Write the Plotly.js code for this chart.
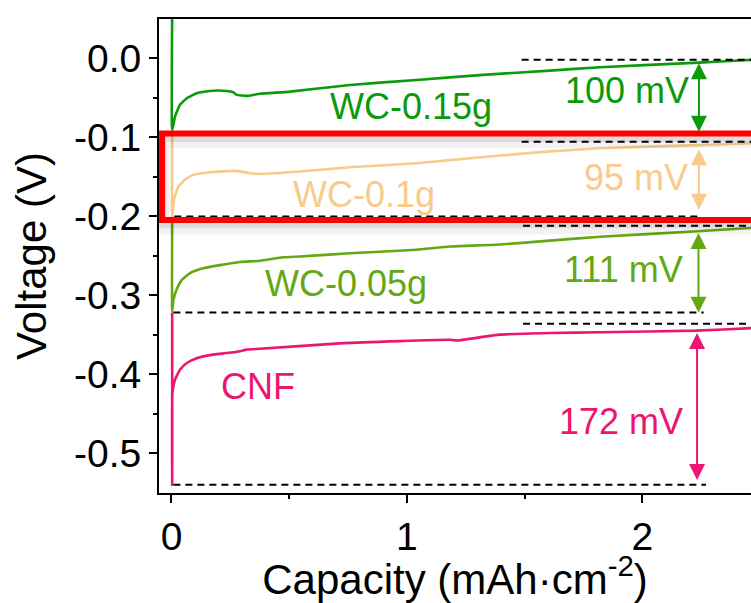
<!DOCTYPE html>
<html>
<head>
<meta charset="utf-8">
<script src="https://cdn.plot.ly/plotly-3.0.1.min.js"></script>
<style>html,body{margin:0;padding:0;background:#fff;}#chart{width:751px;height:603px;}</style>
</head>
<body>
<div id="chart"></div>
<script>
// ---- data ----
const capWC015 = [0.003, 0.003, 0.015, 0.036, 0.065, 0.107, 0.163, 0.234, 0.262, 0.277, 0.319, 0.376, 0.503, 0.758, 1.041, 1.323, 1.607, 1.82, 2.24, 2.465, 2.5];
const voltWC015 = [0.06, -0.091, -0.074, -0.059, -0.0506, -0.0443, -0.0414, -0.0414, -0.043, -0.0464, -0.0477, -0.045, -0.0423, -0.0338, -0.0275, -0.0211, -0.0157, -0.0114, -0.0055, -0.002, -0.0015];

const capWC01 = [0.003, 0.003, 0.011, 0.029, 0.057, 0.093, 0.163, 0.277, 0.333, 0.376, 0.546, 0.758, 1.041, 1.324, 1.607, 1.82, 2.24, 2.461, 2.5];
const voltWC01 = [-0.095, -0.2005, -0.179, -0.1625, -0.154, -0.1477, -0.1443, -0.1427, -0.1456, -0.1465, -0.1435, -0.138, -0.133, -0.125, -0.118, -0.114, -0.110, -0.1076, -0.107];

const capWC005 = [0.003, 0.003, 0.008, 0.022, 0.043, 0.079, 0.135, 0.206, 0.291, 0.376, 0.475, 0.546, 0.758, 0.885, 1.041, 1.183, 1.395, 1.607, 1.82, 2.216, 2.461, 2.5];
const voltWC005 = [-0.2, -0.3206, -0.306, -0.293, -0.281, -0.272, -0.266, -0.262, -0.258, -0.2565, -0.252, -0.251, -0.247, -0.245, -0.2426, -0.2385, -0.2358, -0.231, -0.226, -0.2195, -0.215, -0.2145];

const capCNF = [0.003, 0.003, 0.004, 0.015, 0.036, 0.065, 0.107, 0.163, 0.234, 0.291, 0.319, 0.376, 0.73, 1.183, 1.211, 1.395, 1.607, 1.82, 2.23, 2.461, 2.5];
const voltCNF = [-0.322, -0.540, -0.424, -0.407, -0.3946, -0.386, -0.380, -0.376, -0.3734, -0.371, -0.369, -0.368, -0.3608, -0.3566, -0.3575, -0.350, -0.348, -0.347, -0.345, -0.3418, -0.341];

const seriesNames = ["WC-0.15g", "WC-0.1g", "WC-0.05g", "CNF"];
const seriesColors = ["#0a9a0a", "#f8cb8c", "#64a814", "#ec1670"];

// dashed reference levels (V)
const leftLevels = [-0.2005, -0.322, -0.540];
const leftStart = [0.012, 0.008, 0.008];
const leftEnd = [2.25, 2.26, 2.27];
const rightLevels = [-0.002, -0.1056, -0.212, -0.3363];
const rightStart = [1.487, 1.487, 1.493, 1.493];
const rightEnd = [2.6, 2.6, 2.6, 2.6];

// differences (arrows) and labels
const gapLabels = ["100 mV", "95 mV", "111 mV", "172 mV"];
const gapTop = [-0.0043, -0.1135, -0.2195, -0.346];
const gapBottom = [-0.093, -0.192, -0.3224, -0.534];
const gapX = [2.24, 2.24, 2.238, 2.232];
const gapLabelX = [2.206, 2.202, 2.18, 2.18];
const gapLabelY = [-0.0411, -0.1515, -0.268, -0.46];

const nameLabelX = [1.019, 0.817, 0.743, 0.367];
const nameLabelY = [-0.0605, -0.172, -0.285, -0.416];

// highlight box (data coords)
const boxX = [-0.040, 2.6];
const boxY = [-0.0954, -0.2047];

const xTickVals = [0, 1, 2];
const xTickText = ["0", "1", "2"];
const xMinorVals = [0.5, 1.5];
const yTickVals = [0, -0.1, -0.2, -0.3, -0.4, -0.5];
const yTickText = ["0.0", "-0.1", "-0.2", "-0.3", "-0.4", "-0.5"];
const yMinorVals = [-0.05, -0.15, -0.25, -0.35, -0.45];

// ---- build traces ----
const FONT = "Liberation Sans, Arial, Helvetica, sans-serif";
const caps = [capWC015, capWC01, capWC005, capCNF];
const volts = [voltWC015, voltWC01, voltWC005, voltCNF];
const traces = [];
for (let i = 3; i >= 0; i--) {
  traces.push({x: caps[i], y: volts[i], mode: "lines", name: seriesNames[i],
    line: {color: seriesColors[i], width: 2.6, shape: "spline", smoothing: 0.4}, hoverinfo: "skip"});
}
for (let i = 0; i < leftLevels.length; i++) {
  traces.push({x: [leftStart[i], leftEnd[i]], y: [leftLevels[i], leftLevels[i]], mode: "lines",
    line: {color: "#000", width: 2, dash: "7px,5px"}, hoverinfo: "skip"});
}
for (let i = 0; i < rightLevels.length; i++) {
  traces.push({x: [rightStart[i], rightEnd[i]], y: [rightLevels[i], rightLevels[i]], mode: "lines",
    line: {color: "#000", width: 2, dash: "7px,5px"}, hoverinfo: "skip"});
}

const annotations = [];
for (let i = 0; i < 4; i++) {
  annotations.push({x: nameLabelX[i], y: nameLabelY[i], xref: "x", yref: "y", text: seriesNames[i],
    showarrow: false, xanchor: "center", yanchor: "middle",
    font: {family: FONT, size: 36, color: seriesColors[i]}});
  annotations.push({x: gapLabelX[i], y: gapLabelY[i], xref: "x", yref: "y", text: gapLabels[i],
    showarrow: false, xanchor: "right", yanchor: "middle",
    font: {family: FONT, size: 36, color: seriesColors[i]}});
  annotations.push({x: gapX[i], y: gapBottom[i], ax: gapX[i], ay: gapTop[i], xref: "x", yref: "y",
    axref: "x", ayref: "y", text: "", showarrow: true, arrowside: "end+start",
    arrowhead: 2, startarrowhead: 2, arrowsize: 1.6, startarrowsize: 1.6, arrowwidth: 2,
    arrowcolor: seriesColors[i], standoff: 0, startstandoff: 0});
}

const shapes = [
  {type: "rect", xref: "x", yref: "y", x0: boxX[0], x1: boxX[1], y0: boxY[0] - 0.008, y1: boxY[1] - 0.008,
   line: {color: "rgba(0,0,0,0.05)", width: 16}, layer: "above"},
  {type: "rect", xref: "x", yref: "y", x0: boxX[0], x1: boxX[1], y0: boxY[0] - 0.005, y1: boxY[1] - 0.005,
   line: {color: "rgba(0,0,0,0.09)", width: 9}, layer: "above"},
  {type: "rect", xref: "x", yref: "y", x0: boxX[0], x1: boxX[1], y0: boxY[0], y1: boxY[1],
   line: {color: "#ff0000", width: 6}, layer: "above"}
];

const layout = {
  width: 751, height: 603,
  margin: {l: 159, r: 0, t: 19, b: 110, pad: 0},
  paper_bgcolor: "#ffffff", plot_bgcolor: "#ffffff",
  showlegend: false,
  font: {family: FONT, color: "#000"},
  xaxis: {
    range: [-0.053, 2.461], showgrid: false, zeroline: false,
    showline: true, linecolor: "#000", linewidth: 2, mirror: true,
    ticks: "outside", ticklen: 8, tickwidth: 2, tickcolor: "#000",
    tickmode: "array", tickvals: xTickVals, ticktext: xTickText,
    tickfont: {family: FONT, size: 39, color: "#000"},
    minor: {ticks: "outside", ticklen: 4, tickwidth: 2, tickcolor: "#000", tickvals: xMinorVals, showgrid: false},
    title: {text: "Capacity (mAh·cm<sup>-2</sup>)", font: {family: FONT, size: 42, color: "#000"}, standoff: 12}
  },
  yaxis: {
    range: [-0.5506, 0.0497], showgrid: false, zeroline: false,
    showline: true, linecolor: "#000", linewidth: 2,
    ticks: "outside", ticklen: 8, tickwidth: 2, tickcolor: "#000",
    tickmode: "array", tickvals: yTickVals, ticktext: yTickText,
    tickfont: {family: FONT, size: 39, color: "#000"},
    minor: {ticks: "outside", ticklen: 4, tickwidth: 2, tickcolor: "#000", tickvals: yMinorVals, showgrid: false},
    title: {text: "Voltage (V)", font: {family: FONT, size: 42, color: "#000"}, standoff: 14}
  },
  annotations: annotations,
  shapes: shapes
};

Plotly.newPlot("chart", traces, layout, {staticPlot: true, displayModeBar: false});
</script>
</body>
</html>
